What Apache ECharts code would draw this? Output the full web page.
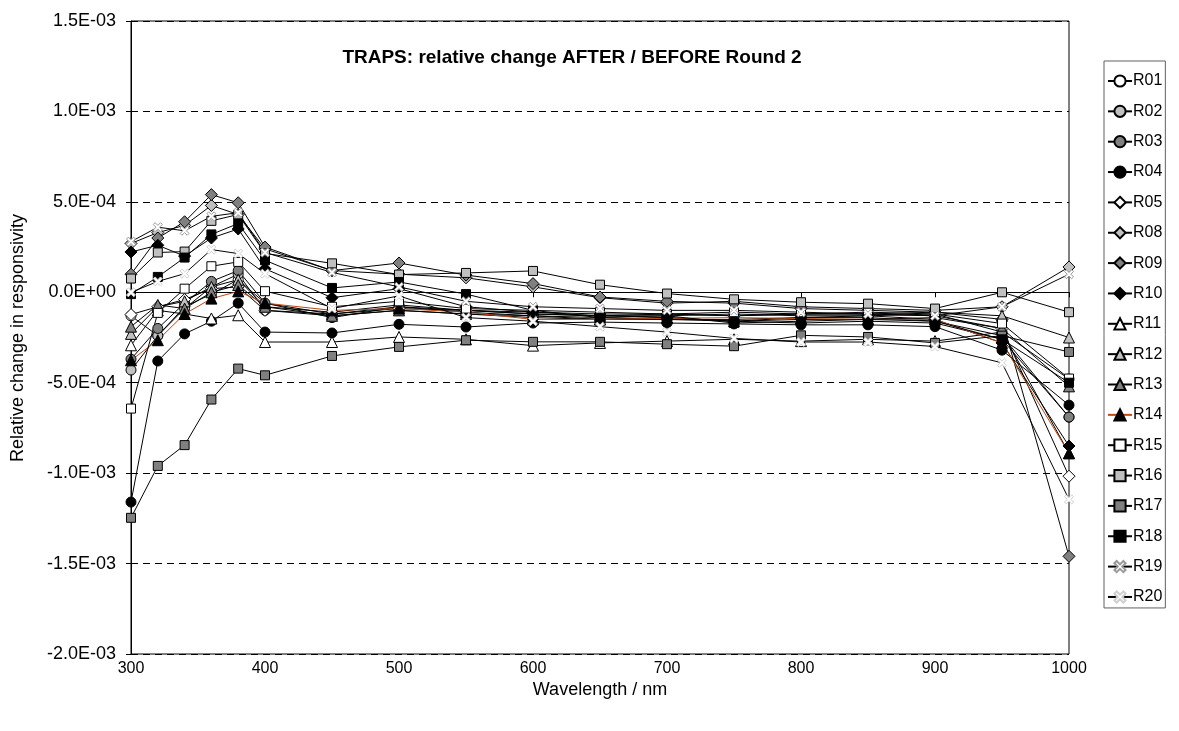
<!DOCTYPE html>
<html>
<head>
<meta charset="utf-8">
<title>TRAPS: relative change AFTER / BEFORE Round 2</title>
<script src="https://cdn.jsdelivr.net/npm/echarts@6/dist/echarts.min.js"></script>
<style>
  html, body { margin: 0; padding: 0; background: #fff; }
  #chart { width: 1179px; height: 731px; }
</style>
</head>
<body>
<div id="chart"></div>
<script>
// Wavelengths (nm)
const wavelengths = [300, 320, 340, 360, 380, 400, 450, 500, 550, 600, 650, 700, 750, 800, 850, 900, 950, 1000];

// Relative change per trap, listed in units of 1E-04
const UNIT = 1e-4;
const R01 = [-1.3, -2.4, -0.8, -0.1, 0.7, -0.8, -1.1, -0.7, -1.0, -1.2, -1.3, -1.3, -1.2, -1.3, -1.3, -1.2, -2.2, -4.8];
const R02 = [-4.3, -2.4, -0.9, 0.3, 1.0, -1.0, -1.3, -1.0, -1.2, -1.3, -1.5, -1.5, -1.6, -1.7, -1.6, -1.7, -2.6, -6.9];
const R03 = [-3.7, -2.0, -0.6, 0.6, 1.2, -0.6, -1.4, -0.8, -1.1, -1.3, -1.4, -1.5, -1.5, -1.4, -1.4, -1.6, -2.4, -6.9];
const R04 = [-11.6, -3.8, -2.3, -1.6, -0.6, -2.2, -2.25, -1.77, -1.92, -1.7, -1.65, -1.7, -1.75, -1.8, -1.8, -1.9, -3.2, -6.24];
const R05 = [-1.23, -0.8, -0.4, 0.2, 0.3, -1.0, -1.2, -0.9, -1.0, -1.1, -1.2, -1.2, -1.3, -1.2, -1.2, -1.3, -2.0, -10.17];
const R08 = [2.7, 3.3, 3.7, 4.8, 4.3, 2.4, 1.2, 1.0, 0.8, 0.3, -0.3, -0.6, -0.5, -0.8, -0.9, -1.0, -0.8, 1.4];
const R09 = [1.0, 3.0, 3.9, 5.4, 4.95, 2.5, 1.2, 1.62, 0.95, 0.48, -0.26, -0.5, -0.6, -0.9, -1.0, -1.1, -1.5, -14.6];
const R10 = [2.23, 2.6, 2.0, 3.0, 3.5, 1.3, -0.3, 0.2, -0.8, -1.1, -1.3, -1.4, -1.6, -1.4, -1.3, -1.5, -2.8, -8.5];
const R11 = [-2.93, -1.0, -1.2, -1.45, -1.27, -2.75, -2.75, -2.47, -2.6, -2.95, -2.8, -2.7, -2.6, -2.7, -2.6, -2.7, -2.2, -8.9];
const R12 = [-2.3, -0.8, -0.5, 0.3, 0.7, -0.6, -1.2, -0.8, -1.0, -1.2, -1.3, -1.2, -1.3, -1.2, -1.2, -1.1, -1.3, -2.5];
const R13 = [-1.9, -0.7, -0.9, 0.0, 0.4, -0.8, -1.3, -1.0, -1.2, -1.4, -1.5, -1.4, -1.6, -1.5, -1.5, -1.4, -2.0, -5.2];
const R14 = [-3.76, -2.65, -1.2, -0.35, 0.05, -0.6, -1.0, -0.9, -1.1, -1.5, -1.5, -1.44, -1.4, -1.45, -1.5, -1.5, -2.8, -8.9];
const R15 = [-6.43, -1.14, 0.2, 1.44, 1.68, 0.06, -0.8, -0.5, -0.9, -1.0, -1.1, -1.2, -1.1, -1.2, -1.1, -1.2, -1.73, -4.77];
const R16 = [0.76, 2.2, 2.25, 3.95, 4.3, 2.15, 1.6, 0.98, 1.07, 1.18, 0.42, -0.07, -0.39, -0.55, -0.63, -0.9, 0.0, -1.1];
const R17 = [-12.47, -9.6, -8.45, -5.93, -4.22, -4.59, -3.52, -3.02, -2.65, -2.74, -2.74, -2.87, -2.98, -2.38, -2.47, -2.8, -2.4, -3.3];
const R18 = [-0.1, 0.85, 1.92, 3.2, 3.8, 1.77, 0.24, 0.57, -0.1, -1.0, -1.4, -1.3, -1.7, -1.6, -1.5, -1.6, -2.6, -5.0];
const R19 = [2.8, 3.6, 3.4, 4.2, 4.4, 2.2, 1.1, 0.3, -0.5, -0.8, -0.9, -1.0, -1.0, -1.1, -1.2, -1.3, -0.8, 1.0];
const R20 = [0.0, 0.6, 1.03, 2.36, 2.14, 1.03, -0.9, -0.2, -1.4, -1.6, -1.9, -2.2, -2.55, -2.75, -2.75, -3.0, -3.9, -11.45];

// Y axis ticks
const yTicks = { min: -2.0e-3, max: 1.5e-3, step: 5e-4 };

// Cross marker drawn as a thick "X"
const CROSS = 'path://M0,2 L2,0 L5,3 L8,0 L10,2 L7,5 L10,8 L8,10 L5,7 L2,10 L0,8 L3,5 Z';

const styles = [
  { name: 'R01', data: R01, symbol: 'circle', size: 10, fill: '#ffffff' },
  { name: 'R02', data: R02, symbol: 'circle', size: 10, fill: '#c0c0c0' },
  { name: 'R03', data: R03, symbol: 'circle', size: 10, fill: '#808080' },
  { name: 'R04', data: R04, symbol: 'circle', size: 10, fill: '#000000' },
  { name: 'R05', data: R05, symbol: 'diamond', size: 12, fill: '#ffffff' },
  { name: 'R08', data: R08, symbol: 'diamond', size: 12, fill: '#c0c0c0' },
  { name: 'R09', data: R09, symbol: 'diamond', size: 12, fill: '#808080' },
  { name: 'R10', data: R10, symbol: 'diamond', size: 12, fill: '#000000' },
  { name: 'R11', data: R11, symbol: 'triangle', size: 11, fill: '#ffffff' },
  { name: 'R12', data: R12, symbol: 'triangle', size: 11, fill: '#c0c0c0' },
  { name: 'R13', data: R13, symbol: 'triangle', size: 11, fill: '#808080' },
  { name: 'R14', data: R14, symbol: 'triangle', size: 11, fill: '#000000', line: '#b84a14' },
  { name: 'R15', data: R15, symbol: 'rect', size: 9, fill: '#ffffff' },
  { name: 'R16', data: R16, symbol: 'rect', size: 9, fill: '#c0c0c0' },
  { name: 'R17', data: R17, symbol: 'rect', size: 9, fill: '#808080' },
  { name: 'R18', data: R18, symbol: 'rect', size: 9, fill: '#000000' },
  { name: 'R19', data: R19, symbol: CROSS, size: 9, fill: '#ffffff', border: '#9a9a9a' },
  { name: 'R20', data: R20, symbol: CROSS, size: 9, fill: '#ffffff', border: '#cfcfcf' }
];

const FONT = '"Liberation Sans", Arial, Helvetica, sans-serif';

function sciLabel(v) {
  if (Math.abs(v) < 1e-12) return '0.0E+00';
  const parts = v.toExponential(1).split('e');
  const n = parseInt(parts[1], 10);
  return parts[0] + 'E' + (n < 0 ? '-' : '+') + String(Math.abs(n)).padStart(2, '0');
}

const series = styles.map(s => ({
  name: s.name,
  type: 'line',
  data: wavelengths.map((w, i) => [w, s.data[i] * UNIT]),
  symbol: s.symbol,
  symbolSize: s.size,
  showSymbol: true,
  lineStyle: { color: s.line || '#000000', width: 1 },
  itemStyle: { color: s.fill, borderColor: s.border || '#000000', borderWidth: 1 },
  emphasis: { disabled: true },
  animation: false
}));

const chart = echarts.init(document.getElementById('chart'), null, { renderer: 'canvas' });
chart.setOption({
  backgroundColor: '#ffffff',
  animation: false,
  textStyle: { fontFamily: FONT },
  grid: {
    left: 131, right: 110, top: 21, bottom: 77,
    show: true, borderColor: '#000000', borderWidth: 1, backgroundColor: 'transparent'
  },
  xAxis: {
    type: 'value', min: 300, max: 1000, interval: 100,
    axisLine: { show: true, lineStyle: { color: '#000000', width: 1 } },
    axisTick: { show: true, inside: false, length: 5, lineStyle: { color: '#000000' } },
    axisLabel: { color: '#000000', fontSize: 16, fontFamily: FONT, margin: 7, formatter: v => String(v) },
    splitLine: { show: false }
  },
  yAxis: {
    type: 'value', min: yTicks.min, max: yTicks.max, interval: yTicks.step,
    axisLine: { show: true, onZero: false, lineStyle: { color: '#000000', width: 1 } },
    axisTick: { show: true, inside: false, length: 5, lineStyle: { color: '#000000' } },
    axisLabel: { color: '#000000', fontSize: 18, fontFamily: FONT, margin: 15, formatter: sciLabel },
    splitLine: { show: true, lineStyle: { color: '#000000', width: 1, type: [7, 5] } }
  },
  legend: {
    orient: 'vertical',
    left: 1104, top: 61,
    padding: [12, 3, 3, 3],
    itemWidth: 24, itemHeight: 14, itemGap: 14.35,
    borderColor: '#606060', borderWidth: 1, borderRadius: 0,
    backgroundColor: '#ffffff',
    textStyle: { color: '#000000', fontSize: 16, lineHeight: 14, fontFamily: FONT, padding: [0, 0, 0, -4] },
    data: styles.map(s => s.name)
  },
  graphic: [
    {
      type: 'text', x: 572, y: 58,
      style: {
        text: 'TRAPS: relative change AFTER / BEFORE Round 2',
        font: 'bold 19px ' + FONT, fill: '#000000',
        textAlign: 'center', textVerticalAlign: 'middle'
      }
    },
    {
      type: 'text', x: 18, y: 338, rotation: Math.PI / 2,
      style: {
        text: 'Relative change in responsivity',
        font: '18px ' + FONT, fill: '#000000',
        textAlign: 'center', textVerticalAlign: 'middle'
      }
    },
    {
      type: 'text', x: 600, y: 690,
      style: {
        text: 'Wavelength / nm',
        font: '18px ' + FONT, fill: '#000000',
        textAlign: 'center', textVerticalAlign: 'middle'
      }
    }
  ],
  series: series
});
</script>
</body>
</html>
